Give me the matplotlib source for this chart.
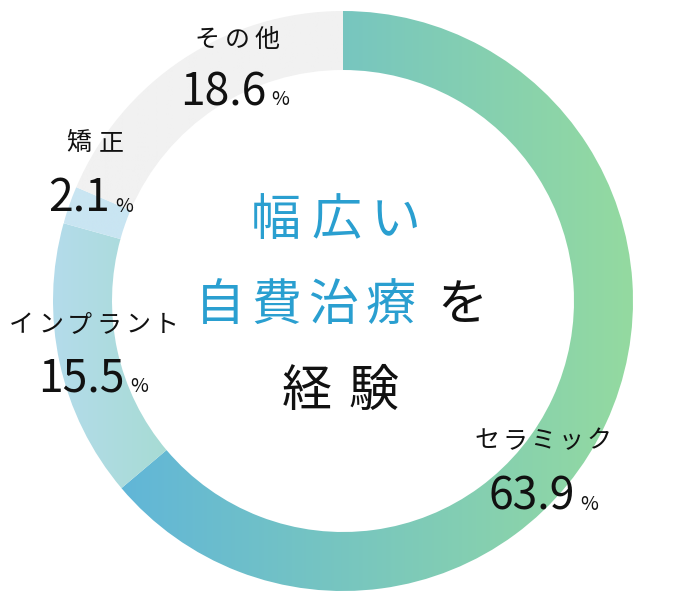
import numpy as np
import matplotlib.pyplot as plt
from matplotlib.patches import Wedge
from matplotlib.colors import to_rgb

plt.rcParams['font.family'] = ['Noto Sans CJK JP', 'DejaVu Sans']

labels = ['セラミック', 'インプラント', '矯正', 'その他']
values = [63.9, 15.5, 2.1, 18.6]
value_text = ['63.9', '15.5', '2.1', '18.6']
# gradient start/end colours per slice (left -> right)
grad = [('#61b6d8', '#94daa0'), ('#b4dbeb', '#a7dcd4'), ('#c9e5f2', '#c9e5f2'), ('#f1f1f1', '#f1f1f1')]

# label anchors in pixels: (name centre x, name y, split x number/%, number baseline y)
label_pos = [(543, 441, 577, 510), (94, 325, 127, 392), (95, 143, 112, 212), (237, 40, 268, 105)]
name_pitch = [28, 29, 33, 30]


def spaced(ax, x, y, s, pitch, **kw):
    # draw characters one by one with extra letter spacing, centred on x
    n = len(s)
    for i, ch in enumerate(s):
        ax.text(x + (i - (n - 1) / 2) * pitch, y, ch, ha='center', va='center', **kw)


fig = plt.figure(figsize=(6.8, 6), dpi=100)
ax = fig.add_axes([0, 0, 1, 1])
ax.set_xlim(0, 680)
ax.set_ylim(600, 0)
ax.axis('off')

cx, cy, r, w = 343, 301, 290, 59
total = sum(values)
start = -90.0  # top, going clockwise (y axis is inverted)
for val, (c0, c1) in zip(values, grad):
    sweep = val / total * 360
    wedge = Wedge((cx, cy), r, start, start + sweep, width=w, facecolor='none', edgecolor='none')
    ax.add_patch(wedge)
    ext = wedge.get_path().get_extents()
    t = np.linspace(0, 1, 256)
    rgb = np.array([(1 - s) * np.array(to_rgb(c0)) + s * np.array(to_rgb(c1)) for s in t])
    img = np.tile(rgb[None, :, :], (2, 1, 1))
    im = ax.imshow(img, extent=[ext.x0, ext.x1, cy + r + 2, cy - r - 2], aspect='auto', interpolation='bilinear')
    im.set_clip_path(wedge)
    start += sweep

for lab, vt, (xn, yl, xs, yb), p in zip(labels, value_text, label_pos, name_pitch):
    spaced(ax, xn, yl, lab, p, fontsize=18, color='#111111')
    ax.text(xs - 2, yb, vt, ha='right', va='baseline', fontsize=32, color='#111111')
    ax.text(xs + 3, yb, '%', ha='left', va='baseline', fontsize=14, color='#111111')

blue = '#2a9fd0'
spaced(ax, 336, 221, '幅広い', 60, fontsize=36, color=blue)
spaced(ax, 305, 306, '自費治療', 57, fontsize=36, color=blue)
ax.text(462, 306, 'を', ha='center', va='center', fontsize=36, color='#111111')
spaced(ax, 340, 392, '経験', 66, fontsize=36, color='#111111')

fig.savefig('out.png', dpi=100)
